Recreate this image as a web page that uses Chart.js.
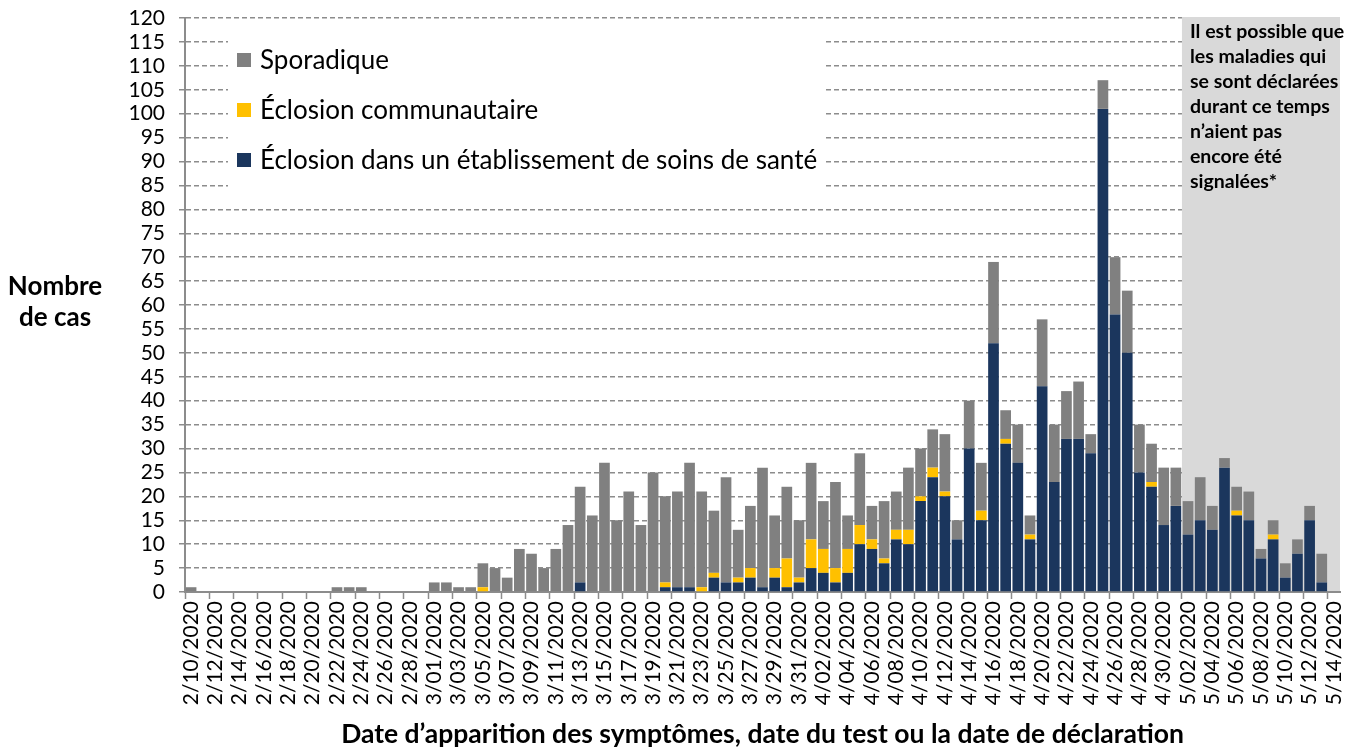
<!DOCTYPE html>
<html>
<head>
<meta charset="utf-8">
<script src="https://cdn.jsdelivr.net/npm/chart.js@4"></script>
<style>
  html, body { margin: 0; background: #fff; }
  #wrap { width: 1356px; height: 747px; position: relative; }
</style>
</head>
<body>
<div id="wrap"><canvas id="chart"></canvas></div>
<script>
const dates = [
  '2/10/2020','2/11/2020','2/12/2020','2/13/2020','2/14/2020','2/15/2020','2/16/2020','2/17/2020','2/18/2020','2/19/2020',
  '2/20/2020','2/21/2020','2/22/2020','2/23/2020','2/24/2020','2/25/2020','2/26/2020','2/27/2020','2/28/2020','2/29/2020',
  '3/01/2020','3/02/2020','3/03/2020','3/04/2020','3/05/2020','3/06/2020','3/07/2020','3/08/2020','3/09/2020','3/10/2020',
  '3/11/2020','3/12/2020','3/13/2020','3/14/2020','3/15/2020','3/16/2020','3/17/2020','3/18/2020','3/19/2020','3/20/2020',
  '3/21/2020','3/22/2020','3/23/2020','3/24/2020','3/25/2020','3/26/2020','3/27/2020','3/28/2020','3/29/2020','3/30/2020',
  '3/31/2020','4/01/2020','4/02/2020','4/03/2020','4/04/2020','4/05/2020','4/06/2020','4/07/2020','4/08/2020','4/09/2020',
  '4/10/2020','4/11/2020','4/12/2020','4/13/2020','4/14/2020','4/15/2020','4/16/2020','4/17/2020','4/18/2020','4/19/2020',
  '4/20/2020','4/21/2020','4/22/2020','4/23/2020','4/24/2020','4/25/2020','4/26/2020','4/27/2020','4/28/2020','4/29/2020',
  '4/30/2020','5/01/2020','5/02/2020','5/03/2020','5/04/2020','5/05/2020','5/06/2020','5/07/2020','5/08/2020','5/09/2020',
  '5/10/2020','5/11/2020','5/12/2020','5/13/2020','5/14/2020'
];

// healthcare-setting outbreaks (navy, bottom of stack)
const etablissement = [
  0,0,0,0,0,0,0,0,0,0, 0,0,0,0,0,0,0,0,0,0,
  0,0,0,0,0,0,0,0,0,0, 0,0,2,0,0,0,0,0,0,1, 1,1,0,3,2,2,3,1,3,1, 2,
  5,4,2,4,10,9,6,11,10,19, 24,20,11,30,15,52,31,27,11,43, 23,32,32,29,101,58,50,25,22,14,
  18,12,15,13,26,16,15,7,11,3, 8,15,2,0
];
// community outbreaks (yellow)
const communautaire = [
  0,0,0,0,0,0,0,0,0,0, 0,0,0,0,0,0,0,0,0,0,
  0,0,0,0,1,0,0,0,0,0, 0,0,0,0,0,0,0,0,0,1, 0,0,1,1,0,1,2,0,2,6, 1,
  6,5,3,5,4,2,1,2,3,1, 2,1,0,0,2,0,1,0,1,0, 0,0,0,0,0,0,0,0,1,0,
  0,0,0,0,0,1,0,0,1,0, 0,0,0,0
];
// sporadic (grey, top of stack)
const sporadique = [
  1,0,0,0,0,0,0,0,0,0, 0,0,1,1,1,0,0,0,0,0,
  2,2,1,1,5,5,3,9,8,5, 9,14,20,16,27,15,21,14,25,18, 20,26,20,13,22,10,13,25,11,15, 12,
  16,10,18,7,15,7,12,8,13,10, 8,12,4,10,10,17,6,8,4,14, 12,10,12,4,6,12,13,10,8,12,
  8,7,9,5,2,5,6,2,3,3, 3,3,6,0
];

const shadeFrom = '5/02/2020';
const note = ['Il est possible que', 'les maladies qui', 'se sont déclarées', 'durant ce temps', 'n’aient pas', 'encore été', 'signalées*'];

const FONT = 'Lato, "Open Sans", sans-serif';
const GRID = '#8c8c8c';

const extras = {
  id: 'extras',
  beforeDatasetsDraw(chart) {
    const { ctx, chartArea: a, scales: { x } } = chart;
    const half = (x.getPixelForValue(1) - x.getPixelForValue(0)) / 2;
    const x0 = x.getPixelForValue(dates.indexOf(shadeFrom)) - half;
    ctx.save();
    ctx.fillStyle = '#d9d9d9';
    ctx.fillRect(x0, a.top - 1, a.right - x0, a.bottom - a.top);
    // legend box hides the grid behind it
    ctx.fillStyle = '#fff';
    ctx.fillRect(228, 27, 598, 168);
    ctx.restore();
  },
  afterDraw(chart) {
    const { ctx, scales: { x } } = chart;
    ctx.save();
    // legend
    const items = chart.data.datasets.slice().reverse();
    ctx.textBaseline = 'middle';
    ctx.font = '26px ' + FONT;
    items.forEach((d, i) => {
      const y = 60 + i * 50;
      ctx.fillStyle = d.backgroundColor;
      ctx.fillRect(237, y - 7, 14, 14);
      ctx.fillStyle = '#000';
      ctx.fillText(d.label, 260, y + 1);
    });
    // note in the shaded zone
    const half = (x.getPixelForValue(1) - x.getPixelForValue(0)) / 2;
    const nx = x.getPixelForValue(dates.indexOf(shadeFrom)) - half + 8;
    ctx.font = 'bold 19.5px ' + FONT;
    note.forEach((t, i) => ctx.fillText(t, nx, 32 + i * 25));
    // y axis title, horizontal
    ctx.font = 'bold 26px ' + FONT;
    ctx.textAlign = 'center';
    ctx.fillText('Nombre', 55, 287);
    ctx.fillText('de cas', 55, 318);
    ctx.restore();
  }
};

new Chart(document.getElementById('chart'), {
  type: 'bar',
  data: {
    labels: dates,
    datasets: [
      { label: 'Éclosion dans un établissement de soins de santé', data: etablissement, backgroundColor: '#1b365d' },
      { label: 'Éclosion communautaire', data: communautaire, backgroundColor: '#ffc000' },
      { label: 'Sporadique', data: sporadique, backgroundColor: '#808080' }
    ]
  },
  options: {
    responsive: true,
    maintainAspectRatio: false,
    animation: false,
    devicePixelRatio: 1,
    layout: { padding: { top: 18, right: 16, left: 0, bottom: 0 } },
    datasets: { bar: { barPercentage: 0.88, categoryPercentage: 1 } },
    plugins: { legend: { display: false }, tooltip: { enabled: false } },
    scales: {
      x: {
        stacked: true,
        offset: true,
        grid: {
          offset: true,
          drawOnChartArea: false,
          tickLength: 7,
          tickWidth: 1.5,
          tickColor: c => (c.index % 2 === 0 ? GRID : 'rgba(0,0,0,0)')
        },
        border: { color: GRID, width: 2 },
        ticks: {
          autoSkip: false,
          minRotation: 90,
          maxRotation: 90,
          padding: 2,
          color: '#000',
          font: { family: FONT, size: 21 },
          callback: (v, i) => (i % 2 === 0 ? dates[i] : '')
        },
        title: {
          display: true,
          text: 'Date d’apparition des symptômes, date du test ou la date de déclaration',
          color: '#000',
          font: { family: FONT, size: 26.5, weight: 'bold' },
          padding: { top: 0, bottom: -3 }
        },
        afterFit: s => { s.height = 155; s.paddingLeft = 0; s.paddingRight = 0; }
      },
      y: {
        stacked: true,
        min: 0,
        max: 120,
        ticks: { stepSize: 5, autoSkip: false, padding: 14, color: '#000', font: { family: FONT, size: 21 } },
        grid: {
          color: c => (c.index === 0 ? 'rgba(0,0,0,0)' : GRID),
          lineWidth: 1.5,
          tickLength: 6,
          tickColor: GRID
        },
        border: { color: GRID, width: 2, dash: [5, 3] },
        afterFit: s => { s.width = 185; s.paddingTop = 0; s.paddingBottom = 0; }
      }
    }
  },
  plugins: [extras]
});
</script>
</body>
</html>
